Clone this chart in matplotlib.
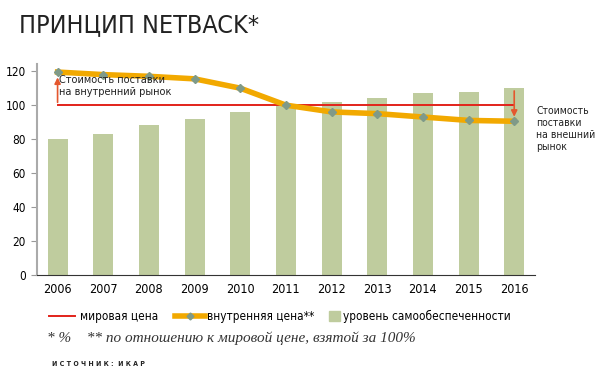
import matplotlib.pyplot as plt
from matplotlib.lines import Line2D
from matplotlib.patches import Rectangle

years = [2006, 2007, 2008, 2009, 2010, 2011, 2012, 2013, 2014, 2015, 2016]
self_sufficiency = [80, 83, 88, 92, 96, 100, 102, 104, 107, 108, 110]
domestic_price = [119.5, 118, 117, 115.5, 110, 100, 96, 95, 93, 91, 90.5]
world_price = [100] * len(years)

plt.rcParams['font.family'] = ['DejaVu Sans']
plt.rcParams['font.stretch'] = 'condensed'

RED = '#e2231a'
ORANGE = '#f2a900'
GREEN = '#bfcc9e'
MARK = '#7f9a88'

fig = plt.figure(figsize=(6.07, 3.79), dpi=100)
ax = fig.add_axes([0.061, 0.275, 0.82, 0.555])

x = list(range(len(years)))
ax.bar(x, self_sufficiency, width=0.44, color=GREEN, zorder=1)
ax.plot(x, world_price, color=RED, lw=1.4, zorder=2)
ax.plot(x, domestic_price, color=ORANGE, lw=4, marker='D', markersize=4.5,
        markerfacecolor=MARK, markeredgecolor=MARK, zorder=3)

# arrows for the two annotations
ax.annotate('', xy=(x[0], domestic_price[0] - 1.5), xytext=(x[0], 100),
            arrowprops=dict(arrowstyle='-|>', color='#e4572e', lw=1.2, mutation_scale=9))
ax.annotate('', xy=(x[-1], domestic_price[-1] + 1), xytext=(x[-1], self_sufficiency[-1]),
            arrowprops=dict(arrowstyle='-|>', color='#e4572e', lw=1.2, mutation_scale=9))
ax.text(x[0] + 0.03, 117.5, 'Стоимость поставки\nна внутренний рынок', fontsize=7.8,
        va='top', ha='left', linespacing=1.15, color='#222222')
ax.text(x[-1] + 0.48, 99.5, 'Стоимость\nпоставки\nна внешний\nрынок', fontsize=7.5,
        va='top', ha='left', linespacing=1.25, color='#222222', clip_on=False)

ax.set_xlim(-0.45, 10.45)
ax.set_ylim(0, 124)
ax.set_yticks([0, 20, 40, 60, 80, 100, 120])
ax.set_xticks(x)
ax.set_xticklabels([str(y) for y in years])
ax.tick_params(axis='x', length=0, labelsize=9, pad=6)
ax.tick_params(axis='y', length=4, color='#999999', labelsize=8.5, pad=4)
for s in ['top', 'right']:
    ax.spines[s].set_visible(False)
ax.spines['left'].set_color('#aaaaaa')
ax.spines['left'].set_linewidth(1.5)
ax.spines['bottom'].set_color('#333333')
ax.spines['bottom'].set_bounds(-0.45, 10.45)

fig.text(0.032, 0.915, 'ПРИНЦИП NETBACK*', fontsize=18, color='#222222',
         fontweight='light')

# legend row
ly = 0.166
fig.add_artist(Line2D([0.081, 0.124], [ly, ly], color=RED, lw=1.4))
fig.text(0.132, ly, 'мировая цена', fontsize=8.5, va='center')
fig.add_artist(Line2D([0.288, 0.338], [ly, ly], color=ORANGE, lw=4))
fig.add_artist(Line2D([0.313], [ly], marker='D', markersize=3.5,
                      markerfacecolor=MARK, markeredgecolor=MARK))
fig.text(0.341, ly, 'внутренняя цена**', fontsize=8.5, va='center')
fig.add_artist(Rectangle((0.542, ly - 0.013), 0.018, 0.026, color=GREEN))
fig.text(0.565, ly, 'уровень самообеспеченности', fontsize=8.5, va='center')

fig.text(0.077, 0.108, '* %    ** по отношению к мировой цене, взятой за 100%',
         fontsize=11, style='italic', family=['Liberation Serif', 'DejaVu Serif'],
         color='#333333', va='center')
fig.text(0.086, 0.04, 'И С Т О Ч Н И К :  И К А Р', fontsize=5, weight='bold',
         color='#222222', va='center')

fig.savefig('out.png', dpi=100)
